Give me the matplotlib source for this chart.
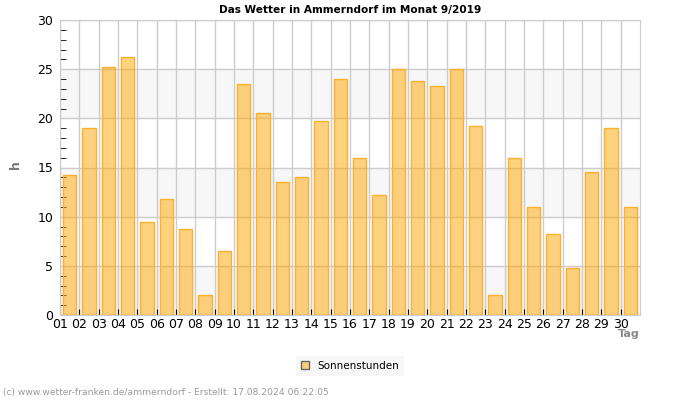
import numpy as np
import matplotlib.pyplot as plt
from matplotlib.ticker import MultipleLocator
from matplotlib.patches import Patch

# Sonnenstunden pro Tag, September 2019
tage = ['%02d' % d for d in range(1, 31)]
sonnenstunden = [14.2, 19.0, 25.2, 26.2, 9.5, 11.8, 8.7, 2.0, 6.5, 23.5,
                 20.5, 13.5, 14.0, 19.7, 24.0, 16.0, 12.2, 25.0, 23.8, 23.3,
                 25.0, 19.2, 2.0, 16.0, 11.0, 8.2, 4.8, 14.5, 19.0, 11.0]

fig = plt.figure(figsize=(7, 4), dpi=100)
ax = fig.add_axes([60/700, 85/400, 580/700, 295/400])

# abwechselnde Hintergrundbaender
for lo in (0, 10, 20):
    ax.axhspan(lo, lo + 5, color='#f7f7f7', zorder=0)

x = np.arange(len(tage))
ax.bar(x, sonnenstunden, width=0.7, facecolor=(1.0, 0.65, 0.0, 0.5),
       edgecolor='#fbb02e', linewidth=1, zorder=3)

ax.set_xlim(-0.5, len(tage) - 0.5)
ax.set_ylim(0, 30)
ax.set_xticks(x - 0.5)
ax.set_xticklabels(tage)
ax.yaxis.set_major_locator(MultipleLocator(5))
ax.yaxis.set_minor_locator(MultipleLocator(1))

ax.grid(True, which='major', color='#cccccc', linewidth=1, zorder=1)
ax.set_axisbelow(True)
for s in ax.spines.values():
    s.set_color('#cccccc')

ax.tick_params(axis='x', direction='in', length=4, color='black', labelsize=9, pad=2)
ax.tick_params(axis='y', which='major', length=0, labelsize=9, pad=5)
ax.tick_params(axis='y', which='minor', direction='in', length=4, color='black')

ax.set_title('Das Wetter in Ammerndorf im Monat 9/2019', fontsize=7.6,
             fontweight='bold', pad=5)
fig.text(15/700, 1 - 165/400, 'h', rotation=90, ha='center', va='center',
         fontsize=9, color='#777777', fontweight='bold')
fig.text(640/700, 1 - 334/400, 'Tag', ha='right', va='center', fontsize=8,
         color='#888888', fontweight='bold')

leg = fig.legend(handles=[Patch(facecolor=(1.0, 0.65, 0.0, 0.5), edgecolor='#666666')],
                 labels=['Sonnenstunden'], loc='center', bbox_to_anchor=(350/700, 1 - 366/400),
                 frameon=True, fontsize=7.5, handlelength=0.8, handleheight=0.8,
                 borderpad=0.5, handletextpad=0.8)
leg.get_frame().set_facecolor('#f5f5f5')
leg.get_frame().set_edgecolor('none')
leg.get_frame().set_boxstyle('square', pad=0)

fig.text(3/700, 1 - 393/400, '(c) www.wetter-franken.de/ammerndorf - Erstellt: 17.08.2024 06:22:05',
         fontsize=6.6, color='#999999', va='center')

fig.savefig('out.png', dpi=100)
